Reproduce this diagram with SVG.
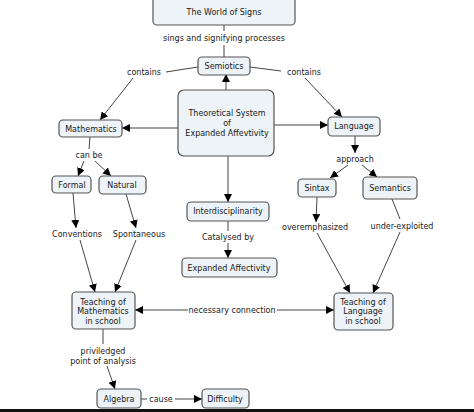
<svg xmlns="http://www.w3.org/2000/svg" width="474" height="412" viewBox="0 0 474 412">
<style>
.n rect{fill:#edf3f6;stroke:#555;stroke-width:1.2}
text{font-family:"DejaVu Sans","Liberation Sans",sans-serif;font-size:8px;fill:#1a1a1a;text-anchor:middle}
.c line{stroke:#444;stroke-width:1}
.a{marker-end:url(#ah)}
</style>
<defs>
<marker id="ah" markerUnits="userSpaceOnUse" markerWidth="9" markerHeight="8" refX="8" refY="4" orient="auto">
<path d="M0,0 L8,4 L0,8 z" fill="#000"/>
</marker>
</defs>
<rect width="474" height="412" fill="#fff"/>
<g class="c">
<line x1="224" y1="25" x2="224" y2="31"/>
<line x1="224" y1="45" x2="224" y2="57"/>
<line class="a" x1="226" y1="90" x2="226" y2="74"/>
<line x1="198" y1="67" x2="166" y2="72"/>
<line class="a" x1="133" y1="78" x2="100" y2="120"/>
<line x1="250" y1="67" x2="281" y2="71"/>
<line class="a" x1="305" y1="78" x2="342" y2="117"/>
<line class="a" x1="178" y1="128" x2="122" y2="128"/>
<line class="a" x1="274" y1="125" x2="328" y2="125"/>
<line x1="90" y1="137" x2="89" y2="149"/>
<line class="a" x1="84" y1="161" x2="78" y2="176"/>
<line class="a" x1="95" y1="161" x2="111" y2="176"/>
<line class="a" x1="355" y1="136" x2="355" y2="153"/>
<line class="a" x1="348" y1="165" x2="330" y2="178"/>
<line class="a" x1="362" y1="165" x2="377" y2="177"/>
<line class="a" x1="228" y1="156" x2="228" y2="202"/>
<line x1="228" y1="221" x2="228" y2="231"/>
<line class="a" x1="228" y1="243" x2="228" y2="258"/>
<line class="a" x1="73" y1="193" x2="76" y2="228"/>
<line class="a" x1="80" y1="240" x2="95" y2="292"/>
<line class="a" x1="126" y1="194" x2="136" y2="228"/>
<line class="a" x1="136" y1="240" x2="115" y2="292"/>
<line class="a" x1="188" y1="310" x2="135" y2="310"/>
<line class="a" x1="277" y1="310" x2="334" y2="310"/>
<line class="a" x1="317" y1="197" x2="316" y2="222"/>
<line class="a" x1="317" y1="233" x2="350" y2="293"/>
<line x1="392" y1="199" x2="400" y2="219"/>
<line class="a" x1="400" y1="232" x2="373" y2="293"/>
<line x1="103" y1="329" x2="103" y2="344"/>
<line class="a" x1="107" y1="366" x2="115" y2="389"/>
<line x1="141" y1="399" x2="147" y2="399"/>
<line class="a" x1="175" y1="399" x2="202" y2="399"/>
</g>
<g id="labels">
<text x="224" y="41">sings and signifying processes</text>
<text x="144" y="75">contains</text>
<text x="304" y="75">contains</text>
<text x="89" y="158">can be</text>
<text x="355" y="162">approach</text>
<text x="228" y="240">Catalysed by</text>
<text x="77" y="237">Conventions</text>
<text x="139" y="237">Spontaneous</text>
<text x="232" y="313">necessary connection</text>
<text x="315" y="230">overemphasized</text>
<text x="402" y="229">under-exploited</text>
<text x="103" y="354">priviledged</text>
<text x="103" y="364">point of analysis</text>
<text x="161" y="402">cause</text>
</g>
<g id="world" class="n"><rect x="153" y="-5" width="142" height="30" rx="4"/><text x="224" y="15">The World of Signs</text></g>
<g id="semiotics" class="n"><rect x="198" y="57" width="52" height="18" rx="4"/><text x="224" y="69">Semiotics</text></g>
<g id="central" class="n"><rect x="178" y="90" width="96" height="66" rx="6"/><text x="227" y="116">Theoretical System</text><text x="227" y="126">of</text><text x="227" y="136">Expanded Affevtivity</text></g>
<g id="mathematics" class="n"><rect x="59" y="120" width="63" height="17" rx="4"/><text x="91" y="131.5">Mathematics</text></g>
<g id="language" class="n"><rect x="328" y="117" width="52" height="19" rx="4"/><text x="354" y="129">Language</text></g>
<g id="formal" class="n"><rect x="52" y="176" width="39" height="17" rx="4"/><text x="72" y="187.5">Formal</text></g>
<g id="natural" class="n"><rect x="99" y="176" width="47" height="18" rx="4"/><text x="122" y="188">Natural</text></g>
<g id="sintax" class="n"><rect x="298" y="179" width="38" height="18" rx="4"/><text x="317" y="191">Sintax</text></g>
<g id="semantics" class="n"><rect x="363" y="177" width="54" height="22" rx="4"/><text x="390" y="191">Semantics</text></g>
<g id="interdisciplinarity" class="n"><rect x="187" y="202" width="82" height="19" rx="4"/><text x="228" y="214">Interdisciplinarity</text></g>
<g id="expanded" class="n"><rect x="182" y="258" width="95" height="19" rx="4"/><text x="229" y="270.5">Expanded Affectivity</text></g>
<g id="teachmath" class="n"><rect x="72" y="292" width="63" height="37" rx="4"/><text x="103" y="305">Teaching of</text><text x="103" y="314">Mathematics</text><text x="103" y="324">in school</text></g>
<g id="teachlang" class="n"><rect x="334" y="293" width="59" height="37" rx="4"/><text x="363" y="305">Teaching of</text><text x="363" y="314">Language</text><text x="363" y="324">in school</text></g>
<g id="algebra" class="n"><rect x="97" y="389" width="44" height="19" rx="4"/><text x="119" y="401.5">Algebra</text></g>
<g id="difficulty" class="n"><rect x="202" y="389" width="47" height="19" rx="4"/><text x="225" y="401.5">Difficulty</text></g>
<rect x="0" y="409" width="474" height="3" fill="#111"/>
</svg>
